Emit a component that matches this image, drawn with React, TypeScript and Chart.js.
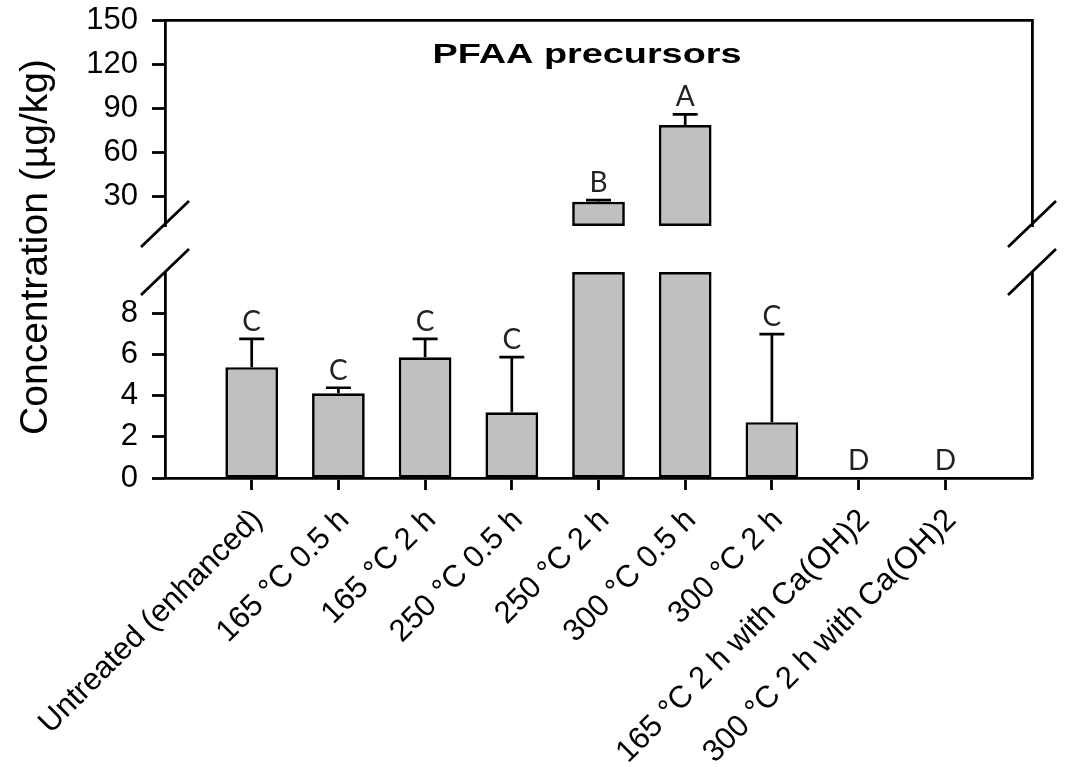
import { useEffect, useRef } from 'react';
import { Chart, registerables } from 'chart.js';

Chart.register(...registerables);

// ---------- data ----------
const categories = [
  'Untreated (enhanced)',
  '165 °C 0.5 h',
  '165 °C 2 h',
  '250 °C 0.5 h',
  '250 °C 2 h',
  '300 °C 0.5 h',
  '300 °C 2 h',
  '165 °C 2 h with Ca(OH)2',
  '300 °C 2 h with Ca(OH)2',
];
const means = [5.38, 4.11, 5.86, 3.19, 26.4, 78.6, 2.71, 0, 0];
const errors = [1.37, 0.27, 0.89, 2.68, 1.2, 7.3, 4.27, 0, 0];
const letters = ['C', 'C', 'C', 'C', 'B', 'A', 'C', 'D', 'D'];
const lowerRange = [0, 10];
const upperRange = [10, 150];
const lowerTicks = [0, 2, 4, 6, 8];
const upperTicks = [30, 60, 90, 120, 150];
const chartTitle = 'PFAA precursors';
const yTitle = 'Concentration (µg/kg)';

// ---------- layout / style ----------
const W = 1066;
const H = 767;
const AREA_LEFT = 165;
const AREA_RIGHT_PAD = 34;
const UPPER_TOP = 20;
const UPPER_BOTTOM = 226;
const LOWER_TOP = 272;
const LOWER_BOTTOM = 478;
const LW = 2.8;
const FONT = '"Liberation Sans", Arial, sans-serif';

const labels = ['', ...categories, ''];
const pad = (arr: any[]) => [null, ...arr, null];

const lowerData = pad(means.map((v) => Math.min(v, lowerRange[1])));
const upperData = pad(means.map((v) => (v > upperRange[0] ? [upperRange[0], v] : null)));

const barStyle = {
  backgroundColor: '#c0c0c0',
  borderColor: '#000',
  borderWidth: 2.7,
  borderSkipped: false as const,
  barPercentage: 0.608,
  categoryPercentage: 1,
};

const noPad = (s: any) => {
  s.paddingTop = 0;
  s.paddingBottom = 0;
  s.paddingLeft = 0;
  s.paddingRight = 0;
};

function makeAnnotPlugin(isUpper: boolean) {
  return {
    id: 'annot' + (isUpper ? 'U' : 'L'),
    afterDatasetsDraw(chart: any) {
      const ctx = chart.ctx;
      const y = chart.scales.y;
      const meta = chart.getDatasetMeta(0);
      const [lo, hi] = isUpper ? upperRange : lowerRange;
      ctx.save();
      ctx.strokeStyle = '#000';
      ctx.lineWidth = 2.7;
      ctx.fillStyle = '#222';
      ctx.font = '28px Lato, "Open Sans", sans-serif';
      ctx.textAlign = 'center';
      ctx.textBaseline = 'alphabetic';
      means.forEach((m, i) => {
        const inPanel = isUpper ? m > lo && m <= hi : m <= hi;
        if (!inPanel) return;
        const el = meta.data[i + 1];
        const x = el.x;
        const yTop = y.getPixelForValue(m);
        const yErr = y.getPixelForValue(m + errors[i]);
        if (errors[i] > 0) {
          ctx.beginPath();
          ctx.moveTo(x, yTop);
          ctx.lineTo(x, yErr);
          ctx.moveTo(x - 12.5, yErr);
          ctx.lineTo(x + 12.5, yErr);
          ctx.stroke();
        }
        ctx.fillText(letters[i], x, yErr - 8);
      });
      ctx.restore();
    },
    afterDraw(chart: any) {
      const ctx = chart.ctx;
      const a = chart.chartArea;
      ctx.save();
      ctx.strokeStyle = '#000';
      ctx.lineWidth = LW;
      const yb = isUpper ? a.bottom - 2 : a.top;
      [a.left, a.right].forEach((x) => {
        ctx.beginPath();
        ctx.moveTo(x - 24, yb + 23);
        ctx.lineTo(x + 24, yb - 23);
        ctx.stroke();
      });
      ctx.fillStyle = '#000';
      if (isUpper) {
        ctx.font = 'bold 27px ' + FONT;
        const w = ctx.measureText(chartTitle).width;
        ctx.translate(587, 63);
        ctx.scale(309 / w, 1);
        ctx.textAlign = 'center';
        ctx.textBaseline = 'alphabetic';
        ctx.fillText(chartTitle, 0, 0);
      } else {
        ctx.font = '39px ' + FONT;
        ctx.translate(47, (UPPER_TOP + LOWER_BOTTOM) / 2 - 2);
        ctx.rotate(-Math.PI / 2);
        ctx.textAlign = 'center';
        ctx.textBaseline = 'alphabetic';
        ctx.fillText(yTitle, 0, 0);
      }
      ctx.restore();
    },
  };
}

function yScale(range: number[], ticks: number[]) {
  return {
    type: 'linear' as const,
    min: range[0],
    max: range[1],
    afterBuildTicks: (s: any) => {
      s.ticks = ticks.map((v) => ({ value: v }));
    },
    afterFit: (s: any) => {
      s.width = AREA_LEFT;
      noPad(s);
    },
    grid: {
      display: true,
      drawOnChartArea: false,
      drawTicks: true,
      tickLength: 13,
      tickWidth: LW,
      tickColor: '#000',
    },
    border: { display: true, color: '#000', width: LW },
    ticks: {
      color: '#000',
      padding: 14,
      font: { family: FONT, size: 31 },
    },
  };
}

function rightScale(range: number[]) {
  return {
    type: 'linear' as const,
    position: 'right' as const,
    min: range[0],
    max: range[1],
    ticks: { display: false },
    grid: { display: false },
    border: { display: true, color: '#000', width: LW },
    afterFit: (s: any) => {
      s.width = 0;
      noPad(s);
    },
  };
}

export default function App() {
  const upperRef = useRef<HTMLCanvasElement>(null);
  const lowerRef = useRef<HTMLCanvasElement>(null);

  useEffect(() => {
    const upper = new Chart(upperRef.current as HTMLCanvasElement, {
      type: 'bar',
      data: {
        labels,
        datasets: [{ data: upperData as any, ...barStyle }],
      },
      options: {
        animation: false,
        responsive: false,
        layout: {
          autoPadding: false,
          padding: { left: 0, right: AREA_RIGHT_PAD, top: UPPER_TOP, bottom: H - UPPER_BOTTOM },
        },
        plugins: { legend: { display: false }, tooltip: { enabled: false } },
        scales: {
          x: {
            type: 'category',
            position: 'top',
            offset: false,
            ticks: { display: false },
            grid: { display: false, offset: false },
            border: { display: true, color: '#000', width: LW },
            afterFit: (s: any) => {
              s.height = 0;
              noPad(s);
            },
          },
          y: yScale(upperRange, upperTicks),
          y2: rightScale(upperRange),
        },
      } as any,
      plugins: [makeAnnotPlugin(true)],
    });

    const lower = new Chart(lowerRef.current as HTMLCanvasElement, {
      type: 'bar',
      data: {
        labels,
        datasets: [{ data: lowerData as any, ...barStyle }],
      },
      options: {
        animation: false,
        responsive: false,
        layout: {
          autoPadding: false,
          padding: { left: 0, right: AREA_RIGHT_PAD, top: LOWER_TOP, bottom: 0 },
        },
        plugins: { legend: { display: false }, tooltip: { enabled: false } },
        scales: {
          x: {
            type: 'category',
            offset: false,
            grid: {
              display: true,
              offset: false,
              drawOnChartArea: false,
              drawTicks: true,
              tickLength: 12,
              tickWidth: LW,
              tickColor: (c: any) =>
                c.index === 0 || c.index === labels.length - 1 ? 'rgba(0,0,0,0)' : '#000',
            },
            border: { display: true, color: '#000', width: LW },
            ticks: {
              autoSkip: false,
              maxRotation: 45,
              minRotation: 45,
              color: '#000',
              padding: 12,
              labelOffset: 6,
              font: { family: FONT, size: 31 },
            },
            afterFit: (s: any) => {
              s.height = H - LOWER_BOTTOM;
              noPad(s);
            },
          },
          y: yScale(lowerRange, lowerTicks),
          y2: rightScale(lowerRange),
        },
      } as any,
      plugins: [makeAnnotPlugin(false)],
    });

    return () => {
      upper.destroy();
      lower.destroy();
    };
  }, []);

  return (
    <div style={{ position: 'absolute', left: 0, top: 0, width: W, height: H, background: '#fff' }}>
      <canvas
        ref={upperRef}
        width={W}
        height={H}
        style={{ position: 'absolute', left: 0, top: 0 }}
      />
      <canvas
        ref={lowerRef}
        width={W}
        height={H}
        style={{ position: 'absolute', left: 0, top: 0 }}
      />
    </div>
  );
}
